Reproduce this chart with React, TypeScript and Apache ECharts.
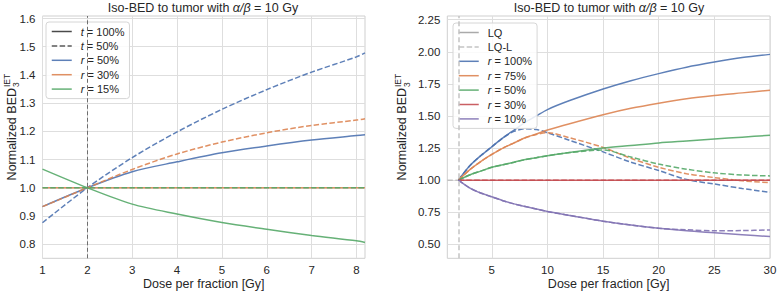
import React, { useEffect, useRef } from "react";
import * as echarts from "echarts";

// ---------- Left panel data ----------
const leftX = [1, 2, 3, 4, 5, 6, 7, 8, 8.19];
const leftR50Full = [0.933, 1.0, 1.057, 1.092, 1.124, 1.148, 1.169, 1.185, 1.188];
const leftR50Half = [0.876, 1.0, 1.107, 1.198, 1.278, 1.348, 1.41, 1.464, 1.478];
const leftR30Full = [1.0, 1.0, 1.0, 1.0, 1.0, 1.0, 1.0, 1.0, 1.0];
const leftR30Half = [0.933, 1.0, 1.065, 1.12, 1.162, 1.195, 1.221, 1.24, 1.245];
const leftR15Full = [1.066, 1.0, 0.942, 0.907, 0.877, 0.853, 0.831, 0.812, 0.806];
const leftR15Half = [1.0, 1.0, 1.0, 1.0, 1.0, 1.0, 1.0, 1.0, 1.0];
const leftXTicks = [1, 2, 3, 4, 5, 6, 7, 8];
const leftYTicks = [0.8, 0.9, 1.0, 1.1, 1.2, 1.3, 1.4, 1.5, 1.6];

// ---------- Right panel data ----------
const rightX = [2, 3, 4, 5, 6, 7, 8, 9, 10, 12, 15, 17.5, 20, 22.5, 25, 27.5, 30];
const r100LQ = [1.0, 1.11, 1.19, 1.26, 1.33, 1.39, 1.45, 1.5, 1.55, 1.62, 1.71, 1.775, 1.83, 1.88, 1.92, 1.955, 1.98];
const r100LQL = [1.0, 1.11, 1.19, 1.26, 1.33, 1.38, 1.4, 1.395, 1.37, 1.31, 1.22, 1.14, 1.075, 1.005, 0.97, 0.935, 0.905];
const r75LQ = [1.0, 1.08, 1.145, 1.2, 1.25, 1.29, 1.33, 1.36, 1.39, 1.44, 1.51, 1.56, 1.6, 1.635, 1.66, 1.68, 1.7];
const r75LQL = [1.0, 1.08, 1.145, 1.2, 1.25, 1.29, 1.33, 1.355, 1.37, 1.33, 1.255, 1.17, 1.1, 1.05, 1.02, 0.995, 0.98];
const r50LQ = [1.0, 1.04, 1.07, 1.1, 1.12, 1.14, 1.16, 1.175, 1.19, 1.215, 1.25, 1.27, 1.29, 1.305, 1.32, 1.335, 1.35];
const r50LQL = [1.0, 1.04, 1.07, 1.1, 1.12, 1.14, 1.16, 1.175, 1.19, 1.215, 1.235, 1.18, 1.125, 1.085, 1.057, 1.04, 1.033];
const r30LQ = [1.0, 1.0, 1.0, 1.0, 1.0, 1.0, 1.0, 1.0, 1.0, 1.0, 1.0, 1.0, 1.0, 1.0, 1.0, 1.0, 1.0];
const r30LQL = [1.0, 1.0, 1.0, 1.0, 1.0, 1.0, 1.0, 1.0, 1.0, 1.0, 1.0, 1.0, 1.0, 1.0, 1.0, 1.0, 1.0];
const r10LQ = [1.0, 0.94, 0.9, 0.87, 0.84, 0.815, 0.795, 0.775, 0.755, 0.725, 0.68, 0.65, 0.625, 0.605, 0.59, 0.575, 0.56];
const r10LQL = [1.0, 0.94, 0.9, 0.87, 0.84, 0.815, 0.795, 0.775, 0.755, 0.725, 0.68, 0.65, 0.625, 0.613, 0.606, 0.607, 0.612];
const refX = [1, 2];
const refY = [1.0, 1.0];
const rightXTicks = [5, 10, 15, 20, 25, 30];
const rightYTicks = [0.5, 0.75, 1.0, 1.25, 1.5, 1.75, 2.0, 2.25];

const FONT = "'Liberation Sans', Arial, sans-serif";
const TXT = "#262626";
const BLUE = "#4C72B0";
const ORANGE = "#DD8452";
const GREEN = "#55A868";
const RED = "#C44E52";
const PURPLE = "#8172B3";
const DASH = [5.5, 2.4];

const pairs = (xs: number[], ys: number[]) => xs.map((x, i) => [x, ys[i]]);

function line(name: string, xi: number, xs: number[], ys: number[], color: string, dashed: boolean, extra: any = {}) {
  return {
    type: "line",
    name,
    xAxisIndex: xi,
    yAxisIndex: xi,
    data: pairs(xs, ys),
    symbol: "none",
    smooth: 0.3,
    silent: true,
    lineStyle: { color, width: 1.5, type: dashed ? DASH : "solid", opacity: 0.9 },
    itemStyle: { color },
    ...extra,
  };
}

function proxy(name: string, xi: number, color: string, dashed: boolean) {
  return {
    type: "line",
    name,
    xAxisIndex: xi,
    yAxisIndex: xi,
    data: [],
    symbol: "none",
    lineStyle: { color, width: 1.5, type: dashed ? DASH : "solid" },
    itemStyle: { color },
  };
}

const legendFormatter = (name: string) => {
  const n = name.trim();
  return n.replace(/^([tr]) /, "{i|$1} ");
};

function yLabel(x: number) {
  return {
    type: "group",
    x,
    y: 136,
    rotation: Math.PI / 2,
    children: [
      {
        type: "text",
        x: 48,
        y: 0,
        style: { text: "Normalized BED", fontSize: 12.5, fontFamily: FONT, fill: TXT, align: "right", verticalAlign: "middle" },
      },
      {
        type: "text",
        x: 49,
        y: -4.5,
        style: { text: "IET", fontSize: 8.5, fontFamily: FONT, fill: TXT, align: "left", verticalAlign: "middle" },
      },
      {
        type: "text",
        x: 49,
        y: 4.5,
        style: { text: "3", fontSize: 8.5, fontFamily: FONT, fill: TXT, align: "left", verticalAlign: "middle" },
      },
    ],
  };
}

function xAxis(gi: number, min: number, max: number, ticks: number[]) {
  return {
    type: "value",
    gridIndex: gi,
    min,
    max,
    name: "Dose per fraction [Gy]",
    nameLocation: "middle",
    nameGap: 19,
    nameMoveOverlap: false,
    nameTextStyle: { fontSize: 12.5, color: TXT, fontFamily: FONT },
    axisLine: { show: false },
    axisTick: { show: false, customValues: ticks },
    axisLabel: { customValues: ticks, fontSize: 11.5, color: TXT, fontFamily: FONT, margin: 6, formatter: (v: number) => String(v) },
    splitLine: { show: true, lineStyle: { color: "#dedede", width: 1 } },
  };
}

function yAxis(gi: number, min: number, max: number, ticks: number[], dec: number) {
  return {
    type: "value",
    gridIndex: gi,
    min,
    max,
    axisLine: { show: false },
    axisTick: { show: false, customValues: ticks },
    axisLabel: { customValues: ticks, fontSize: 11.5, color: TXT, fontFamily: FONT, margin: 7, formatter: (v: number) => v.toFixed(dec) },
    splitLine: { show: true, lineStyle: { color: "#dedede", width: 1 } },
  };
}

const legendCommon = {
  orient: "vertical",
  itemWidth: 20,
  itemHeight: 10,
  itemGap: 1.4,
  padding: [3, 5, 3, 5],
  backgroundColor: "rgba(255,255,255,0.85)",
  borderColor: "#d6d6d6",
  borderWidth: 1,
  borderRadius: 3,
  selectedMode: false,
  itemStyle: { opacity: 0 },
  lineStyle: { width: 1.5 },
  formatter: legendFormatter,
  textStyle: {
    fontSize: 11,
    lineHeight: 13,
    color: TXT,
    fontFamily: FONT,
    padding: [0, 0, 0, 4],
    rich: { i: { fontStyle: "italic", fontSize: 11, lineHeight: 13, color: TXT, fontFamily: FONT } },
  },
};

export default function App() {
  const ref = useRef<HTMLDivElement>(null);
  useEffect(() => {
    document.body.style.margin = "0";
    if (!ref.current) return;
    const chart = echarts.init(ref.current, undefined, { renderer: "svg" });
    const titleStyle = {
      fontSize: 12.5,
      fontWeight: "normal",
      color: TXT,
      fontFamily: FONT,
      rich: { i: { fontStyle: "italic", fontSize: 12.5, color: TXT, fontFamily: FONT } },
    };
    const gridCommon = {
      top: 16,
      bottom: 33.7,
      show: true,
      borderColor: "#cfcfcf",
      borderWidth: 1,
      backgroundColor: "transparent",
      containLabel: false,
      outerBoundsMode: "none",
    };
    const option: any = {
      animation: false,
      backgroundColor: "#ffffff",
      title: [
        { text: "Iso-BED to tumor with {i|α/β} = 10 Gy", left: 203, top: 1, textAlign: "center", textStyle: titleStyle, padding: 0 },
        { text: "Iso-BED to tumor with {i|α/β} = 10 Gy", left: 609, top: 1, textAlign: "center", textStyle: titleStyle, padding: 0 },
      ],
      grid: [
        { ...gridCommon, left: 42.5, right: 412 },
        { ...gridCommon, left: 447.3, right: 7 },
      ],
      xAxis: [xAxis(0, 1, 8.19, leftXTicks), xAxis(1, 1, 30, rightXTicks)],
      yAxis: [yAxis(0, 0.75, 1.609, leftYTicks, 1), yAxis(1, 0.391, 2.279, rightYTicks, 2)],
      legend: [
        { ...legendCommon, left: 46, top: 22, data: ["t = 100%", "t = 50%", "r = 50%", "r = 30%", "r = 15%"] },
        { ...legendCommon, left: 453, top: 23, data: ["LQ", "LQ-L", "r = 100% ", "r = 75% ", "r = 50% ", "r = 30% ", "r = 10% "] },
      ],
      graphic: [yLabel(11.5), yLabel(402)],
      series: [
        proxy("t = 100%", 0, "#4a4a4a", false),
        proxy("t = 50%", 0, "#5a5a5a", true),
        line("r = 50%", 0, leftX, leftR50Full, BLUE, false, {
          markLine: {
            silent: true,
            symbol: ["none", "none"],
            label: { show: false },
            lineStyle: { color: "#6e6e6e", width: 1, type: [4, 2.5] },
            data: [{ xAxis: 2 }],
          },
        }),
        line("r = 50% half", 0, leftX, leftR50Half, BLUE, true),
        line("r = 30%", 0, leftX, leftR30Full, ORANGE, false),
        line("r = 30% half", 0, leftX, leftR30Half, ORANGE, true),
        line("r = 15%", 0, leftX, leftR15Full, GREEN, false),
        line("r = 15% half", 0, leftX, leftR15Half, GREEN, true),

        proxy("LQ", 1, "#aaaaaa", false),
        proxy("LQ-L", 1, "#c4c4c4", true),
        line("ref", 1, refX, refY, "#bdbdbd", true, {
          markLine: {
            silent: true,
            symbol: ["none", "none"],
            label: { show: false },
            lineStyle: { color: "#c4c4c4", width: 1.5, type: [5, 3] },
            data: [{ xAxis: 2 }],
          },
        }),
        line("r = 100% ", 1, rightX, r100LQ, BLUE, false),
        line("r = 100% LQL", 1, rightX, r100LQL, BLUE, true),
        line("r = 75% ", 1, rightX, r75LQ, ORANGE, false),
        line("r = 75% LQL", 1, rightX, r75LQL, ORANGE, true),
        line("r = 50% ", 1, rightX, r50LQ, GREEN, false),
        line("r = 50% LQL", 1, rightX, r50LQL, GREEN, true),
        line("r = 30% ", 1, rightX, r30LQ, RED, false),
        line("r = 30% LQL", 1, rightX, r30LQL, RED, true),
        line("r = 10% ", 1, rightX, r10LQ, PURPLE, false),
        line("r = 10% LQL", 1, rightX, r10LQL, PURPLE, true),
      ],
    };
    chart.setOption(option);
    return () => chart.dispose();
  }, []);
  return <div ref={ref} style={{ width: 777, height: 292, background: "#fff" }} />;
}
